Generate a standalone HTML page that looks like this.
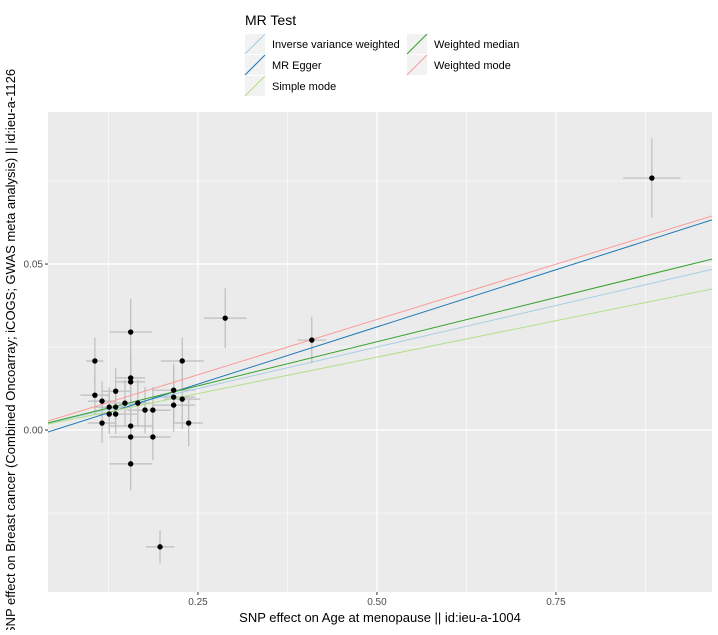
<!DOCTYPE html>
<html><head><meta charset="utf-8"><style>
body{margin:0;background:#fff;font-family:"Liberation Sans",Arial,sans-serif}
svg text{font-family:"Liberation Sans",Arial,sans-serif}
</style></head><body>
<svg id="chart" width="718" height="630" xmlns="http://www.w3.org/2000/svg">
<rect width="718" height="630" fill="#fff"/>
<g id="panel"></g>
<g id="legend">
<text x="245" y="25" font-size="14" fill="#000">MR Test</text>
</g>
<text x="380" y="622" font-size="13" text-anchor="middle" fill="#000">SNP effect on Age at menopause || id:ieu-a-1004</text>
<text transform="translate(15,352) rotate(-90)" font-size="13" text-anchor="middle" fill="#000">SNP effect on Breast cancer (Combined Oncoarray; iCOGS; GWAS meta analysis) || id:ieu-a-1126</text>
</svg>
<script>
const snpX=[0.288,0.156,0.106,0.228,0.156,0.156,0.135,0.216,0.106,0.216,0.228,0.116,0.148,0.166,0.126,0.135,0.216,0.176,0.187,0.126,0.135,0.116,0.237,0.156,0.156,0.187,0.156,0.197,0.409,0.884];
const snpY=[0.0337,0.0295,0.0208,0.0208,0.0157,0.0145,0.0117,0.012,0.0105,0.0099,0.0093,0.0087,0.0081,0.0081,0.0069,0.0069,0.0075,0.006,0.006,0.0048,0.0048,0.0021,0.0021,0.0012,-0.0021,-0.0021,-0.0102,-0.0352,0.0271,0.0759];
const seX=[0.03,0.03,0.012,0.03,0.02,0.02,0.02,0.03,0.02,0.03,0.025,0.02,0.02,0.02,0.02,0.02,0.03,0.025,0.025,0.02,0.03,0.02,0.02,0.03,0.03,0.025,0.03,0.02,0.02,0.04];
const seY=[0.009,0.010,0.007,0.007,0.007,0.007,0.007,0.008,0.006,0.008,0.009,0.006,0.007,0.007,0.006,0.006,0.008,0.007,0.007,0.006,0.006,0.006,0.007,0.008,0.008,0.007,0.008,0.005,0.007,0.012];
const methods=["Inverse variance weighted","MR Egger","Simple mode","Weighted median","Weighted mode"];
const slopes=[0.0500,0.0689,0.0439,0.0532,0.0666];
const intercepts=[0,-0.0034,0,0,0];
const colors=["#a6cee3","#1f78b4","#b2df8a","#33a02c","#fb9a99"];
const xTicks=[0.25,0.5,0.75];const xTickLabels=["0.25","0.50","0.75"];
const yTicks=[0,0.05];const yTickLabels=["0.00","0.05"];
const L=48,R=712,T=112,B=592,XMIN=0.0405,XMAX=0.968,YMIN=-0.0488,YMAX=0.0958;
const sx=v=>L+(v-XMIN)/(XMAX-XMIN)*(R-L);
const sy=v=>B-(v-YMIN)/(YMAX-YMIN)*(B-T);
const NS="http://www.w3.org/2000/svg";
const panel=document.getElementById('panel');
function mk(tag,at,parent){const e=document.createElementNS(NS,tag);for(const k in at)e.setAttribute(k,at[k]);(parent||panel).appendChild(e);return e;}
let bg=mk('rect',{x:L,y:T,width:R-L,height:B-T,fill:'#ebebeb'});


for(let v=0.125;v<XMAX;v+=0.25){let g=mk('line',{x1:sx(v),x2:sx(v),y1:T,y2:B,stroke:'#fff','stroke-width':0.6});}
for(let v=-0.025;v<YMAX;v+=0.05){let g=mk('line',{x1:L,x2:R,y1:sy(v),y2:sy(v),stroke:'#fff','stroke-width':0.6});}
xTicks.forEach((v,i)=>{let g=mk('line',{x1:sx(v),x2:sx(v),y1:T,y2:B,stroke:'#fff','stroke-width':1.2});
let t=mk('line',{x1:sx(v),x2:sx(v),y1:B,y2:B+3,stroke:'#333'});
let l=mk('text',{x:sx(v),y:B+13,'font-size':10,'text-anchor':'middle',fill:'#4d4d4d'});l.textContent=xTickLabels[i];});
yTicks.forEach((v,i)=>{let g=mk('line',{x1:L,x2:R,y1:sy(v),y2:sy(v),stroke:'#fff','stroke-width':1.2});
let t=mk('line',{x1:L-3,x2:L,y1:sy(v),y2:sy(v),stroke:'#333'});
let l=mk('text',{x:L-5,y:sy(v)+3.5,'font-size':10,'text-anchor':'end',fill:'#4d4d4d'});l.textContent=yTickLabels[i];});
snpX.forEach((x,i)=>{const y=snpY[i];
let h=mk('line',{x1:sx(x-seX[i]),x2:sx(x+seX[i]),y1:sy(y),y2:sy(y),stroke:'#bdbdbd','stroke-width':1.2});
let v=mk('line',{x1:sx(x),x2:sx(x),y1:sy(y-seY[i]),y2:sy(y+seY[i]),stroke:'#bdbdbd','stroke-width':1.2});});
const clip=mk('clipPath',{id:'pc'});mk('rect',{x:L,y:T,width:R-L,height:B-T},clip);
methods.forEach((m,i)=>{let ln=mk('line',{x1:sx(XMIN),x2:sx(XMAX),y1:sy(intercepts[i]+slopes[i]*XMIN),y2:sy(intercepts[i]+slopes[i]*XMAX),stroke:colors[i],'stroke-width':1,'clip-path':'url(#pc)'});

});
snpX.forEach((x,i)=>{let c=mk('circle',{cx:sx(x),cy:sy(snpY[i]),r:2.7,fill:'#000'});

});
const lg=document.getElementById('legend');
const pos=[[245,34],[245,55],[245,76],[407,34],[407,55]];
methods.forEach((m,i)=>{const [x,y]=pos[i];
const g=mk('g',{},lg);


mk('rect',{x:x,y:y,width:20,height:20,fill:'#f2f2f2'},g);
mk('line',{x1:x,y1:y+20,x2:x+20,y2:y,stroke:colors[i],'stroke-width':1},g);
const t=mk('text',{x:x+27,y:y+14,'font-size':11,fill:'#000'},g);t.textContent=m;});
</script>
</body></html>
